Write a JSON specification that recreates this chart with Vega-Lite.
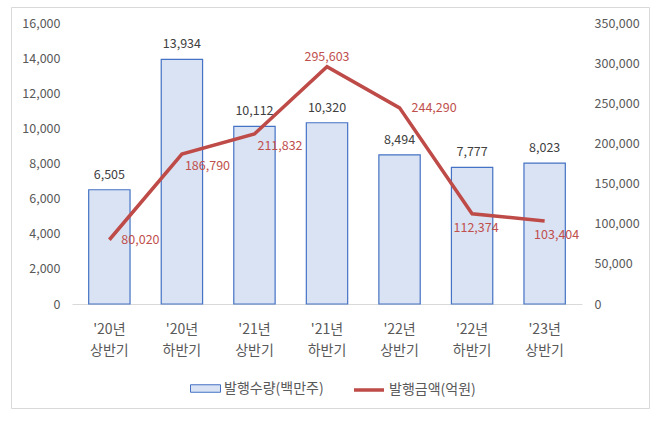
{
  "$schema": "https://vega.github.io/schema/vega-lite/v6.json",
  "width": 638,
  "height": 401,
  "autosize": "none",
  "padding": {"left": 11, "top": 7, "right": 6, "bottom": 22},
  "background": "#ffffff",
  "config": {
    "font": "Noto Sans CJK KR",
    "view": {"stroke": "#d9d9d9", "strokeWidth": 1},
    "axis": {"labelColor": "#595959", "labelFontSize": 12.5, "ticks": false, "grid": false, "title": null},
    "legend": {"labelColor": "#595959", "labelFontSize": 14, "padding": 0}
  },
  "data": {
    "values": [
      {"period": "'20년 상반기", "qty": 6505, "amount": 80020},
      {"period": "'20년 하반기", "qty": 13934, "amount": 186790},
      {"period": "'21년 상반기", "qty": 10112, "amount": 211832},
      {"period": "'21년 하반기", "qty": 10320, "amount": 295603},
      {"period": "'22년 상반기", "qty": 8494, "amount": 244290},
      {"period": "'22년 하반기", "qty": 7777, "amount": 112374},
      {"period": "'23년 상반기", "qty": 8023, "amount": 103404}
    ]
  },
  "encoding": {
    "x": {
      "field": "period",
      "type": "nominal",
      "sort": null,
      "scale": {"range": [61, 571], "paddingInner": 0.43, "paddingOuter": 0.23},
      "axis": {
        "labelAngle": 0,
        "offset": -104,
        "domainColor": "#d9d9d9",
        "labelExpr": "split(datum.label, ' ')",
        "labelLineHeight": 21,
        "labelFontSize": 14,
        "labelPadding": 18,
        "labelBaseline": "top"
      }
    }
  },
  "layer": [
    {
      "encoding": {
        "y": {
          "field": "qty",
          "type": "quantitative",
          "scale": {"domain": [0, 16000], "range": [297, 16]},
          "axis": {"orient": "left", "values": [0, 2000, 4000, 6000, 8000, 10000, 12000, 14000, 16000], "format": ",.0f", "domain": false, "offset": -61, "labelPadding": 12}
        }
      },
      "layer": [
        {
          "mark": {"type": "bar", "stroke": "#4472c4", "strokeWidth": 1.2},
          "encoding": {
            "fill": {
              "datum": "발행수량(백만주)",
              "type": "nominal",
              "scale": {"range": ["#dae3f3"]},
              "legend": {
                "title": null,
                "orient": "none",
                "legendX": 179,
                "legendY": 366,
                "symbolType": "M-1,-0.25H1V0.25H-1Z",
                "symbolSize": 900,
                "symbolStrokeColor": "#4472c4",
                "symbolStrokeWidth": 1,
                "labelOffset": 3
              }
            }
          }
        },
        {
          "mark": {"type": "text", "baseline": "bottom", "dy": -8, "fontSize": 12.5, "color": "#404040"},
          "encoding": {"text": {"field": "qty", "type": "quantitative", "format": ","}}
        }
      ]
    },
    {
      "encoding": {
        "y": {
          "field": "amount",
          "type": "quantitative",
          "scale": {"domain": [0, 350000], "range": [297, 16]},
          "axis": {"orient": "right", "values": [0, 50000, 100000, 150000, 200000, 250000, 300000, 350000], "format": ",.0f", "domain": false, "offset": -67, "labelPadding": 12}
        }
      },
      "layer": [
        {
          "mark": {"type": "line", "strokeWidth": 3.5},
          "encoding": {
            "stroke": {
              "datum": "발행금액(억원)",
              "type": "nominal",
              "scale": {"range": ["#be4b48"]},
              "legend": {
                "title": null,
                "orient": "none",
                "legendX": 341,
                "legendY": 366,
                "symbolType": "stroke",
                "symbolSize": 900,
                "symbolStrokeWidth": 3.5,
                "labelOffset": 3
              }
            }
          }
        },
        {
          "transform": [{"filter": {"field": "period", "oneOf": ["'20년 상반기", "'22년 상반기"]}}],
          "mark": {"type": "text", "align": "left", "baseline": "middle", "dx": 12, "dy": 0, "fontSize": 12.5, "color": "#c0504d"},
          "encoding": {"text": {"field": "amount", "type": "quantitative", "format": ","}}
        },
        {
          "transform": [{"filter": {"field": "period", "oneOf": ["'20년 하반기", "'21년 상반기"]}}],
          "mark": {"type": "text", "align": "left", "baseline": "middle", "dx": 3, "dy": 12, "fontSize": 12.5, "color": "#c0504d"},
          "encoding": {"text": {"field": "amount", "type": "quantitative", "format": ","}}
        },
        {
          "transform": [{"filter": {"field": "period", "oneOf": ["'21년 하반기"]}}],
          "mark": {"type": "text", "align": "center", "baseline": "middle", "dy": -10, "fontSize": 12.5, "color": "#c0504d"},
          "encoding": {"text": {"field": "amount", "type": "quantitative", "format": ","}}
        },
        {
          "transform": [{"filter": {"field": "period", "oneOf": ["'22년 하반기"]}}],
          "mark": {"type": "text", "align": "center", "baseline": "middle", "dx": 4, "dy": 14, "fontSize": 12.5, "color": "#c0504d"},
          "encoding": {"text": {"field": "amount", "type": "quantitative", "format": ","}}
        },
        {
          "transform": [{"filter": {"field": "period", "oneOf": ["'23년 상반기"]}}],
          "mark": {"type": "text", "align": "center", "baseline": "middle", "dx": 12, "dy": 14, "fontSize": 12.5, "color": "#c0504d"},
          "encoding": {"text": {"field": "amount", "type": "quantitative", "format": ","}}
        }
      ]
    }
  ],
  "resolve": {"scale": {"y": "independent", "fill": "independent", "stroke": "independent"}}
}
